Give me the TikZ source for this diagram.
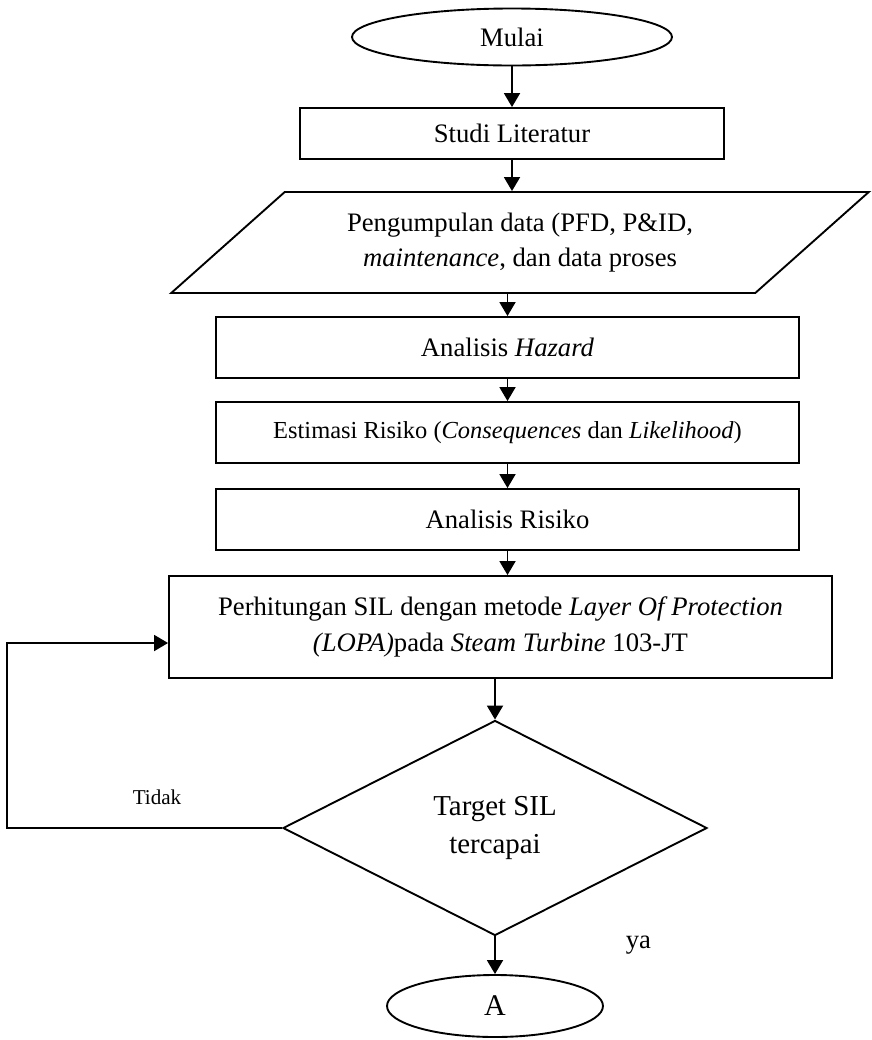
\documentclass[tikz,border=0pt]{standalone}
\usepackage{fontspec}
\setmainfont{Liberation Serif}
\usetikzlibrary{shapes.geometric,arrows.meta}

\newcommand{\px}{0.45pt}

\tikzset{
  box/.style={draw,line width=0.85pt,rectangle,inner sep=0pt,align=center},
  arr/.style={line width=0.85pt,-{Triangle[length=6.3pt,width=7.2pt]}},
}

\begin{document}
\begin{tikzpicture}[x=0.45pt,y=0.45pt,yscale=-1,xscale=1,font=\fontsize{12}{16}\selectfont]
\useasboundingbox (0,0) rectangle (872,1040);

% Terminal: start
\node[draw,ellipse,line width=0.85pt,inner sep=0pt,minimum width=320*\px,minimum height=57*\px] (mulai) at (512,37) {Mulai};
% Process boxes
\node[box,minimum width=424*\px,minimum height=51*\px] (studi) at (512,133.5) {Studi Literatur};
\node[draw,trapezium,line width=0.85pt,inner sep=0pt,align=center,trapezium left angle=35.6,trapezium right angle=144.4,trapezium stretches=true,minimum width=700*\px,minimum height=101*\px] (data) at (520,242.5)
  {Pengumpulan data (PFD, P\&ID,\\ \textit{maintenance}, dan data proses};
\node[box,minimum width=583*\px,minimum height=61*\px] (hazard) at (507.5,347.5) {Analisis \textit{Hazard}};
\node[box,minimum width=583*\px,minimum height=61*\px,font=\fontsize{11}{13}\selectfont] (estimasi) at (507.5,432.5)
  {Estimasi Risiko (\textit{Consequences} dan \textit{Likelihood})};
\node[box,minimum width=583*\px,minimum height=61*\px] (risiko) at (507.5,519.5) {Analisis Risiko};
\node[box,minimum width=663*\px,minimum height=102*\px] (sil) at (500.5,627)
  {Perhitungan SIL dengan metode \textit{Layer Of Protection}\\ \textit{(LOPA)}pada \textit{Steam Turbine} 103-JT};
% Decision
\node[draw,diamond,line width=0.85pt,inner sep=0pt,aspect=2,minimum width=424*\px,minimum height=215*\px,align=center,font=\fontsize{13}{17}\selectfont] (target) at (495,828)
  {Target SIL\\ tercapai};
% Terminal: connector A
\node[draw,ellipse,line width=0.85pt,inner sep=0pt,minimum width=216*\px,minimum height=62*\px,font=\fontsize{13.5}{16}\selectfont] (akhir) at (495,1006) {A};

% Labels
\node[font=\fontsize{9.5}{11}\selectfont] (tidak) at (157,797) {Tidak};
\node[anchor=west] (ya) at (618,945) {ya};

\coordinate (balik) at (7,643);

% Connectors
\draw[arr] (mulai.south) -- (studi.north);
\draw[arr] (studi.south) -- (studi.south |- data.north);
\draw[arr] (hazard.north |- data.south) -- (hazard.north);
\draw[arr] (hazard.south) -- (estimasi.north);
\draw[arr] (estimasi.south) -- (risiko.north);
\draw[arr] (risiko.south) -- (risiko.south |- sil.north);
\draw[arr] (target.north |- sil.south) -- (target.north);
\draw[arr] (target.south) -- (akhir.north);
\draw[arr] (target.west) -- (target.west -| balik) -- (balik) -- (balik -| sil.west);

\end{tikzpicture}
\end{document}
